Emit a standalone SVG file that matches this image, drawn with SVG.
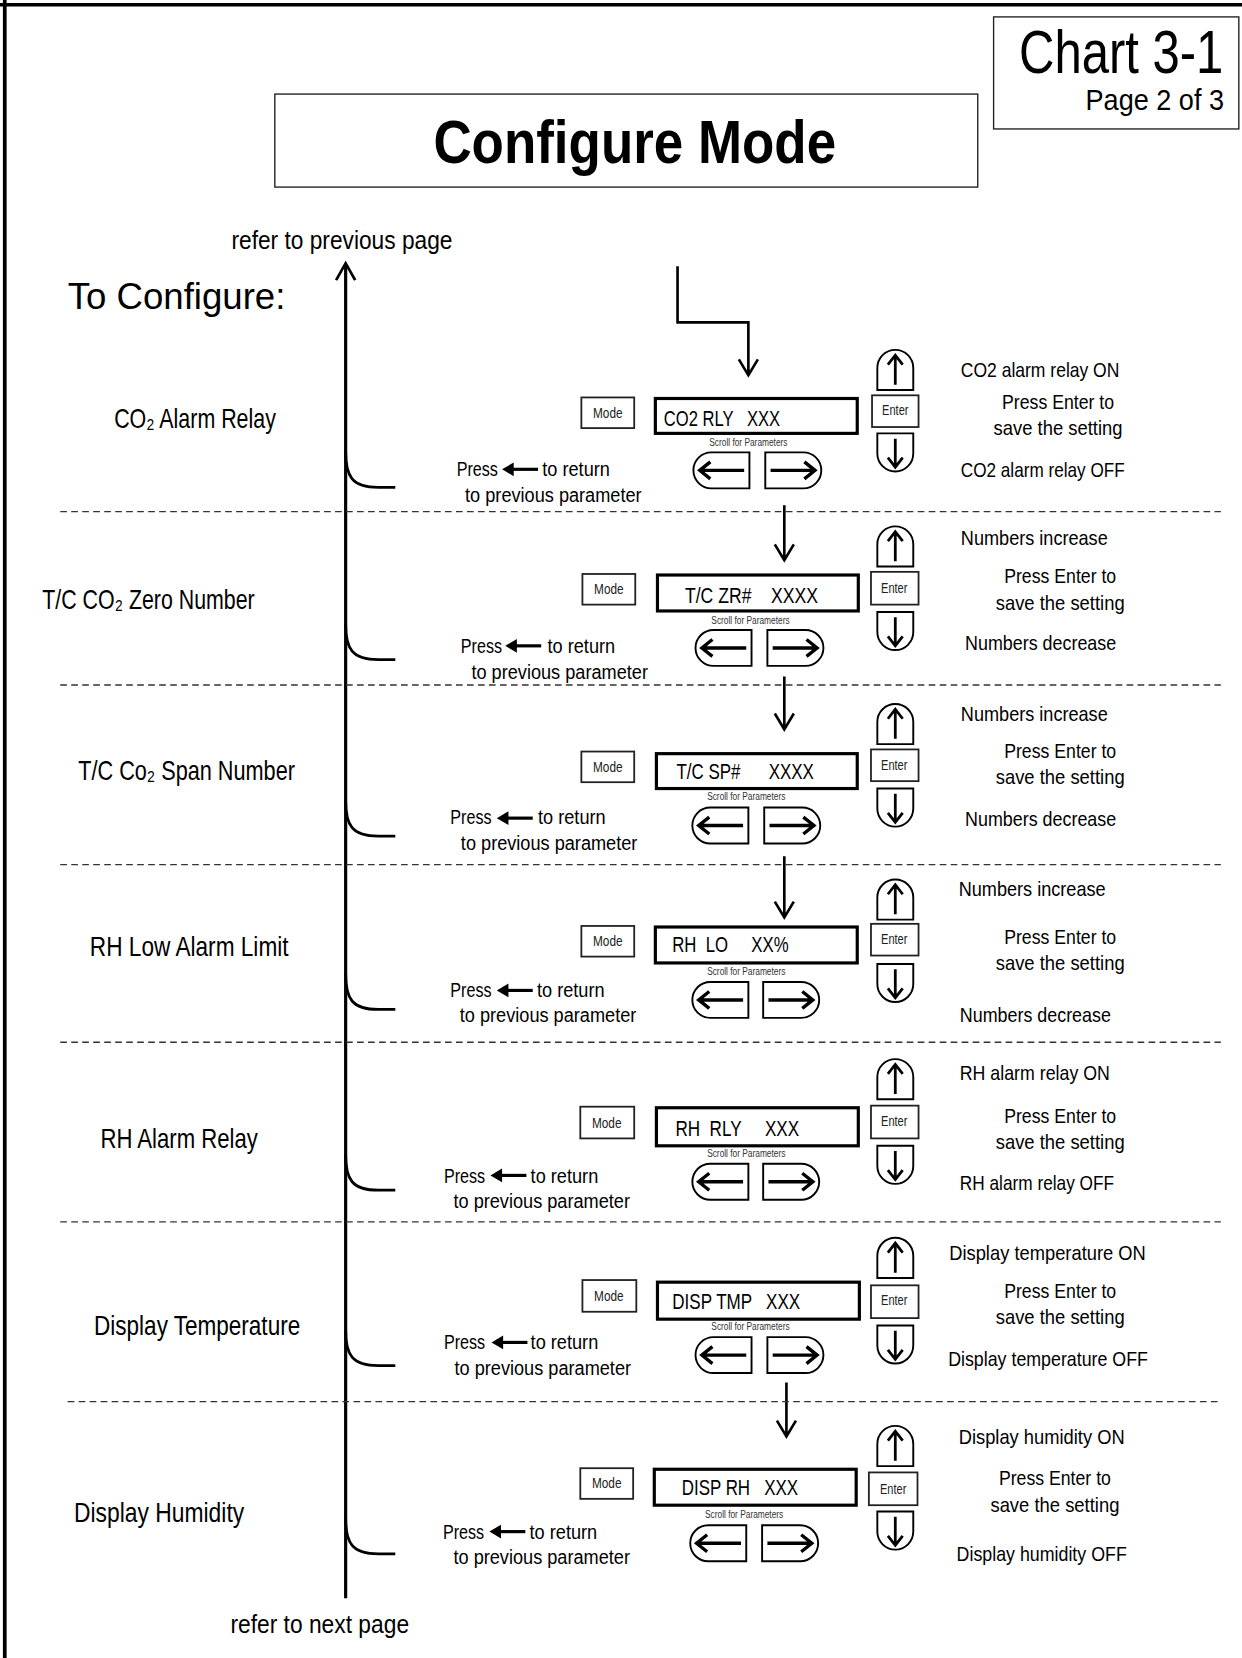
<svg xmlns="http://www.w3.org/2000/svg" xmlns:xlink="http://www.w3.org/1999/xlink" width="1242" height="1658" viewBox="0 0 1242 1658">
<style>
.f{font-family:"Liberation Sans",Arial,sans-serif;fill:#000}
.lbl{font-size:26px}
.rt{font-size:20px}
.pr{font-size:19.5px}
.dt{font-size:21px}
.bt{font-size:13.5px;fill:#222}
.sc{font-size:9.5px;fill:#333}
.mid{text-anchor:middle}
.ln{stroke:#000;fill:none}
.dash{stroke:#333;stroke-width:1.3;stroke-dasharray:6.3 4.1;fill:none}
.mb{fill:#fff;stroke:#222;stroke-width:1.7}
.disp{fill:#fff;stroke:#000;stroke-width:3}
.btn{fill:#fff;stroke:#000;stroke-width:1.8}
.ar{fill:none;stroke:#000;stroke-width:2.6}
.ar2{fill:none;stroke:#000;stroke-width:3.2}
</style>
<defs>
<g id="upB"><path class="btn" d="M0,38 V17 A17,17 0 0 1 34,17 V38 Z"/><path class="ar" d="M17,33 V6 M10,14 L17,5 L24,14"/></g>
<g id="downB"><path class="btn" d="M0,0 V19 A17,17 0 0 0 34,19 V0 Z"/><path class="ar" d="M17,5 V31 M10,23 L17,32 L24,23"/></g>
<g id="leftB"><path class="btn" d="M53,0 H17 A17,17 0 0 0 17,34 H53 Z"/><path class="ar2" d="M48,17 H7 M16,9 L6,17 L16,25"/></g>
<g id="rightB"><path class="btn" d="M0,0 H36 A17,17 0 0 1 36,34 H0 Z"/><path class="ar2" d="M5,17 H46 M37,9 L47,17 L37,25"/></g>
<g id="pa"><path d="M34,0 H8" stroke="#000" stroke-width="3" fill="none"/><polygon points="0,0 11,-6.5 11,6.5" fill="#000"/></g>
</defs>
<rect width="1242" height="1658" fill="#fff"/>
<g transform="scale(1.05702)">
<g id="page-border">
<path d="M4.5,0 V1570 M0,4.5 H1176" stroke="#000" stroke-width="3.5" fill="none"/>
</g>
<g id="chart-box">
<rect x="940" y="16" width="232" height="106" fill="#fff" stroke="#222" stroke-width="1.3"/>
<text class="f" transform="translate(964,69) scale(0.8,1)" font-size="58">Chart 3-1</text>
<text class="f" x="1027" y="104" font-size="28" textLength="131" lengthAdjust="spacingAndGlyphs">Page 2 of 3</text>
</g>
<g id="title">
<rect x="260" y="89" width="665" height="88" fill="#fff" stroke="#222" stroke-width="1.3"/>
<text class="f" x="410" y="154" font-size="58" font-weight="bold" textLength="381" lengthAdjust="spacingAndGlyphs">Configure Mode</text>
</g>
<g id="headers">
<text class="f" x="219" y="236" font-size="24" textLength="209" lengthAdjust="spacingAndGlyphs">refer to previous page</text>
<text class="f" x="64" y="292" font-size="35" textLength="206" lengthAdjust="spacingAndGlyphs">To Configure:</text>
<text class="f" x="218" y="1545" font-size="24" textLength="169" lengthAdjust="spacingAndGlyphs">refer to next page</text>
</g>

<g id="connectors">
<path class="ln" stroke-width="3" d="M327,1512 V251"/>
<path class="ln" stroke-width="2.6" d="M318,265 L327,249 L336,265"/>
<path class="ln" stroke-width="2.5" d="M641,252 V305 H708 V353 M699,340 L708,355 L717,340"/>
<path class="ln" stroke-width="2.5" d="M742,478 V528 M733,515 L742,530 L751,515"/>
<path class="ln" stroke-width="2.5" d="M742,640 V688 M733,675 L742,690 L751,675"/>
<path class="ln" stroke-width="2.5" d="M742,810 V866 M733,853 L742,868 L751,853"/>
<path class="ln" stroke-width="2.5" d="M744,1308 V1357 M735,1344 L744,1359 L753,1344"/>
<path class="ln" stroke-width="2.6" d="M327,427 C327,451 333,461 358,461 H374"/>
<path class="ln" stroke-width="2.6" d="M327,590 C327,614 333,624 358,624 H374"/>
<path class="ln" stroke-width="2.6" d="M327,757 C327,781 333,791 358,791 H374"/>
<path class="ln" stroke-width="2.6" d="M327,921 C327,945 333,955 358,955 H374"/>
<path class="ln" stroke-width="2.6" d="M327,1092 C327,1116 333,1126 358,1126 H374"/>
<path class="ln" stroke-width="2.6" d="M327,1258 C327,1282 333,1292 358,1292 H374"/>
<path class="ln" stroke-width="2.6" d="M327,1436 C327,1460 333,1470 358,1470 H374"/>
<path class="dash" d="M57,484 H1155"/>
<path class="dash" d="M57,648 H1155"/>
<path class="dash" d="M57,818 H1155"/>
<path class="dash" d="M57,986 H1155"/>
<path class="dash" d="M57,1156 H1155"/>
<path class="dash" d="M64,1326 H1155"/>
</g>

<g id="sec1-co2-alarm-relay">
<text class="f lbl" x="108" y="405" textLength="153" lengthAdjust="spacingAndGlyphs">CO₂ Alarm Relay</text>
<rect class="mb" x="550" y="376" width="50" height="29"/><text class="f bt mid" x="575" y="395" textLength="28" lengthAdjust="spacingAndGlyphs">Mode</text>
<rect class="disp" x="620" y="377" width="191" height="33"/><text class="f dt" x="628" y="403" textLength="110" lengthAdjust="spacingAndGlyphs" xml:space="preserve">CO2 RLY   XXX</text>
<text class="f sc mid" x="708" y="422" textLength="74" lengthAdjust="spacingAndGlyphs">Scroll for Parameters</text>
<use xlink:href="#leftB" x="656" y="428"/><use xlink:href="#rightB" x="724" y="428"/>
<use xlink:href="#upB" x="830" y="331"/>
<rect class="mb" x="825" y="374" width="44" height="30"/><text class="f bt mid" x="847" y="393" textLength="25" lengthAdjust="spacingAndGlyphs">Enter</text>
<use xlink:href="#downB" x="830" y="410"/>
<text class="f rt" x="909" y="357" textLength="150" lengthAdjust="spacingAndGlyphs">CO2 alarm relay ON</text>
<text class="f rt mid" x="1001" y="387" textLength="106" lengthAdjust="spacingAndGlyphs">Press Enter to</text>
<text class="f rt mid" x="1001" y="412" textLength="122" lengthAdjust="spacingAndGlyphs">save the setting</text>
<text class="f rt" x="909" y="451" textLength="155" lengthAdjust="spacingAndGlyphs">CO2 alarm relay OFF</text>
<text class="f pr" x="432" y="450" textLength="39" lengthAdjust="spacingAndGlyphs">Press</text><use xlink:href="#pa" x="475" y="444"/>
<text class="f pr" x="513" y="450" textLength="64" lengthAdjust="spacingAndGlyphs">to return</text>
<text class="f pr" x="440" y="475" textLength="167" lengthAdjust="spacingAndGlyphs">to previous parameter</text>
</g>

<g id="sec2-tc-co2-zero-number">
<text class="f lbl" x="40" y="576" textLength="201" lengthAdjust="spacingAndGlyphs">T/C CO₂ Zero Number</text>
<rect class="mb" x="551" y="543" width="50" height="29"/><text class="f bt mid" x="576" y="562" textLength="28" lengthAdjust="spacingAndGlyphs">Mode</text>
<rect class="disp" x="622" y="544" width="190" height="34"/><text class="f dt" x="648" y="570" textLength="126" lengthAdjust="spacingAndGlyphs" xml:space="preserve">T/C ZR#    XXXX</text>
<text class="f sc mid" x="710" y="590" textLength="74" lengthAdjust="spacingAndGlyphs">Scroll for Parameters</text>
<use xlink:href="#leftB" x="658" y="596"/><use xlink:href="#rightB" x="726" y="596"/>
<use xlink:href="#upB" x="830" y="498"/>
<rect class="mb" x="824" y="541" width="45" height="31"/><text class="f bt mid" x="846" y="561" textLength="25" lengthAdjust="spacingAndGlyphs">Enter</text>
<use xlink:href="#downB" x="830" y="579"/>
<text class="f rt" x="909" y="516" textLength="139" lengthAdjust="spacingAndGlyphs">Numbers increase</text>
<text class="f rt mid" x="1003" y="552" textLength="106" lengthAdjust="spacingAndGlyphs">Press Enter to</text>
<text class="f rt mid" x="1003" y="577" textLength="122" lengthAdjust="spacingAndGlyphs">save the setting</text>
<text class="f rt" x="913" y="615" textLength="143" lengthAdjust="spacingAndGlyphs">Numbers decrease</text>
<text class="f pr" x="436" y="618" textLength="39" lengthAdjust="spacingAndGlyphs">Press</text><use xlink:href="#pa" x="478" y="611"/>
<text class="f pr" x="518" y="618" textLength="64" lengthAdjust="spacingAndGlyphs">to return</text>
<text class="f pr" x="446" y="642" textLength="167" lengthAdjust="spacingAndGlyphs">to previous parameter</text>
</g>

<g id="sec3-tc-co2-span-number">
<text class="f lbl" x="74" y="738" textLength="205" lengthAdjust="spacingAndGlyphs">T/C Co₂ Span Number</text>
<rect class="mb" x="550" y="711" width="50" height="29"/><text class="f bt mid" x="575" y="730" textLength="28" lengthAdjust="spacingAndGlyphs">Mode</text>
<rect class="disp" x="621" y="713" width="190" height="33"/><text class="f dt" x="640" y="737" textLength="130" lengthAdjust="spacingAndGlyphs" xml:space="preserve">T/C SP#      XXXX</text>
<text class="f sc mid" x="706" y="757" textLength="74" lengthAdjust="spacingAndGlyphs">Scroll for Parameters</text>
<use xlink:href="#leftB" x="655" y="764"/><use xlink:href="#rightB" x="723" y="764"/>
<use xlink:href="#upB" x="830" y="666"/>
<rect class="mb" x="824" y="709" width="45" height="30"/><text class="f bt mid" x="846" y="728" textLength="25" lengthAdjust="spacingAndGlyphs">Enter</text>
<use xlink:href="#downB" x="830" y="746"/>
<text class="f rt" x="909" y="682" textLength="139" lengthAdjust="spacingAndGlyphs">Numbers increase</text>
<text class="f rt mid" x="1003" y="717" textLength="106" lengthAdjust="spacingAndGlyphs">Press Enter to</text>
<text class="f rt mid" x="1003" y="742" textLength="122" lengthAdjust="spacingAndGlyphs">save the setting</text>
<text class="f rt" x="913" y="781" textLength="143" lengthAdjust="spacingAndGlyphs">Numbers decrease</text>
<text class="f pr" x="426" y="780" textLength="39" lengthAdjust="spacingAndGlyphs">Press</text><use xlink:href="#pa" x="470" y="774"/>
<text class="f pr" x="509" y="780" textLength="64" lengthAdjust="spacingAndGlyphs">to return</text>
<text class="f pr" x="436" y="804" textLength="167" lengthAdjust="spacingAndGlyphs">to previous parameter</text>
</g>

<g id="sec4-rh-low-alarm-limit">
<text class="f lbl" x="85" y="904" textLength="188" lengthAdjust="spacingAndGlyphs">RH Low Alarm Limit</text>
<rect class="mb" x="550" y="876" width="50" height="29"/><text class="f bt mid" x="575" y="895" textLength="28" lengthAdjust="spacingAndGlyphs">Mode</text>
<rect class="disp" x="620" y="877" width="191" height="34"/><text class="f dt" x="636" y="901" textLength="110" lengthAdjust="spacingAndGlyphs" xml:space="preserve">RH  LO     XX%</text>
<text class="f sc mid" x="706" y="922" textLength="74" lengthAdjust="spacingAndGlyphs">Scroll for Parameters</text>
<use xlink:href="#leftB" x="655" y="929"/><use xlink:href="#rightB" x="722" y="929"/>
<use xlink:href="#upB" x="830" y="832"/>
<rect class="mb" x="824" y="874" width="45" height="30"/><text class="f bt mid" x="846" y="893" textLength="25" lengthAdjust="spacingAndGlyphs">Enter</text>
<use xlink:href="#downB" x="830" y="912"/>
<text class="f rt" x="907" y="848" textLength="139" lengthAdjust="spacingAndGlyphs">Numbers increase</text>
<text class="f rt mid" x="1003" y="893" textLength="106" lengthAdjust="spacingAndGlyphs">Press Enter to</text>
<text class="f rt mid" x="1003" y="918" textLength="122" lengthAdjust="spacingAndGlyphs">save the setting</text>
<text class="f rt" x="908" y="967" textLength="143" lengthAdjust="spacingAndGlyphs">Numbers decrease</text>
<text class="f pr" x="426" y="943" textLength="39" lengthAdjust="spacingAndGlyphs">Press</text><use xlink:href="#pa" x="470" y="937"/>
<text class="f pr" x="508" y="943" textLength="64" lengthAdjust="spacingAndGlyphs">to return</text>
<text class="f pr" x="435" y="967" textLength="167" lengthAdjust="spacingAndGlyphs">to previous parameter</text>
</g>

<g id="sec5-rh-alarm-relay">
<text class="f lbl" x="95" y="1086" textLength="149" lengthAdjust="spacingAndGlyphs">RH Alarm Relay</text>
<rect class="mb" x="549" y="1047" width="51" height="30"/><text class="f bt mid" x="574" y="1067" textLength="28" lengthAdjust="spacingAndGlyphs">Mode</text>
<rect class="disp" x="621" y="1048" width="191" height="36"/><text class="f dt" x="639" y="1075" textLength="117" lengthAdjust="spacingAndGlyphs" xml:space="preserve">RH  RLY     XXX</text>
<text class="f sc mid" x="706" y="1095" textLength="74" lengthAdjust="spacingAndGlyphs">Scroll for Parameters</text>
<use xlink:href="#leftB" x="655" y="1101"/><use xlink:href="#rightB" x="722" y="1101"/>
<use xlink:href="#upB" x="830" y="1002"/>
<rect class="mb" x="824" y="1046" width="45" height="31"/><text class="f bt mid" x="846" y="1065" textLength="25" lengthAdjust="spacingAndGlyphs">Enter</text>
<use xlink:href="#downB" x="830" y="1084"/>
<text class="f rt" x="908" y="1022" textLength="142" lengthAdjust="spacingAndGlyphs">RH alarm relay ON</text>
<text class="f rt mid" x="1003" y="1062" textLength="106" lengthAdjust="spacingAndGlyphs">Press Enter to</text>
<text class="f rt mid" x="1003" y="1087" textLength="122" lengthAdjust="spacingAndGlyphs">save the setting</text>
<text class="f rt" x="908" y="1126" textLength="146" lengthAdjust="spacingAndGlyphs">RH alarm relay OFF</text>
<text class="f pr" x="420" y="1119" textLength="39" lengthAdjust="spacingAndGlyphs">Press</text><use xlink:href="#pa" x="464" y="1112"/>
<text class="f pr" x="502" y="1119" textLength="64" lengthAdjust="spacingAndGlyphs">to return</text>
<text class="f pr" x="429" y="1143" textLength="167" lengthAdjust="spacingAndGlyphs">to previous parameter</text>
</g>

<g id="sec6-display-temperature">
<text class="f lbl" x="89" y="1263" textLength="195" lengthAdjust="spacingAndGlyphs">Display Temperature</text>
<rect class="mb" x="551" y="1211" width="51" height="30"/><text class="f bt mid" x="576" y="1231" textLength="28" lengthAdjust="spacingAndGlyphs">Mode</text>
<rect class="disp" x="622" y="1213" width="191" height="35"/><text class="f dt" x="636" y="1238" textLength="121" lengthAdjust="spacingAndGlyphs" xml:space="preserve">DISP TMP   XXX</text>
<text class="f sc mid" x="710" y="1258" textLength="74" lengthAdjust="spacingAndGlyphs">Scroll for Parameters</text>
<use xlink:href="#leftB" x="658" y="1265"/><use xlink:href="#rightB" x="726" y="1265"/>
<use xlink:href="#upB" x="830" y="1171"/>
<rect class="mb" x="824" y="1216" width="45" height="31"/><text class="f bt mid" x="846" y="1235" textLength="25" lengthAdjust="spacingAndGlyphs">Enter</text>
<use xlink:href="#downB" x="830" y="1254"/>
<text class="f rt" x="898" y="1192" textLength="186" lengthAdjust="spacingAndGlyphs">Display temperature ON</text>
<text class="f rt mid" x="1003" y="1228" textLength="106" lengthAdjust="spacingAndGlyphs">Press Enter to</text>
<text class="f rt mid" x="1003" y="1253" textLength="122" lengthAdjust="spacingAndGlyphs">save the setting</text>
<text class="f rt" x="897" y="1292" textLength="189" lengthAdjust="spacingAndGlyphs">Display temperature OFF</text>
<text class="f pr" x="420" y="1276" textLength="39" lengthAdjust="spacingAndGlyphs">Press</text><use xlink:href="#pa" x="465" y="1270"/>
<text class="f pr" x="502" y="1276" textLength="64" lengthAdjust="spacingAndGlyphs">to return</text>
<text class="f pr" x="430" y="1301" textLength="167" lengthAdjust="spacingAndGlyphs">to previous parameter</text>
</g>

<g id="sec7-display-humidity">
<text class="f lbl" x="70" y="1440" textLength="161" lengthAdjust="spacingAndGlyphs">Display Humidity</text>
<rect class="mb" x="549" y="1389" width="50" height="29"/><text class="f bt mid" x="574" y="1408" textLength="28" lengthAdjust="spacingAndGlyphs">Mode</text>
<rect class="disp" x="619" y="1390" width="191" height="34"/><text class="f dt" x="645" y="1414" textLength="110" lengthAdjust="spacingAndGlyphs" xml:space="preserve">DISP RH   XXX</text>
<text class="f sc mid" x="704" y="1436" textLength="74" lengthAdjust="spacingAndGlyphs">Scroll for Parameters</text>
<use xlink:href="#leftB" x="653" y="1443"/><use xlink:href="#rightB" x="721" y="1443"/>
<use xlink:href="#upB" x="830" y="1349"/>
<rect class="mb" x="822" y="1393" width="46" height="31"/><text class="f bt mid" x="845" y="1413" textLength="25" lengthAdjust="spacingAndGlyphs">Enter</text>
<use xlink:href="#downB" x="830" y="1430"/>
<text class="f rt" x="907" y="1366" textLength="157" lengthAdjust="spacingAndGlyphs">Display humidity ON</text>
<text class="f rt mid" x="998" y="1405" textLength="106" lengthAdjust="spacingAndGlyphs">Press Enter to</text>
<text class="f rt mid" x="998" y="1430" textLength="122" lengthAdjust="spacingAndGlyphs">save the setting</text>
<text class="f rt" x="905" y="1477" textLength="161" lengthAdjust="spacingAndGlyphs">Display humidity OFF</text>
<text class="f pr" x="419" y="1456" textLength="39" lengthAdjust="spacingAndGlyphs">Press</text><use xlink:href="#pa" x="463" y="1449"/>
<text class="f pr" x="501" y="1456" textLength="64" lengthAdjust="spacingAndGlyphs">to return</text>
<text class="f pr" x="429" y="1480" textLength="167" lengthAdjust="spacingAndGlyphs">to previous parameter</text>
</g>
</g>
</svg>
